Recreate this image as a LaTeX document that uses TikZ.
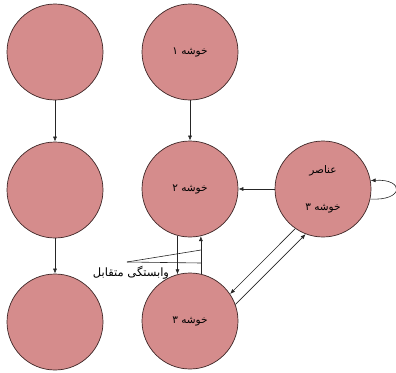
\documentclass[tikz,border=0pt]{standalone}
\usepackage{fontspec}
\usepackage{xcolor}
\usepackage{tikz}
\usetikzlibrary{arrows.meta}
\newfontfamily\farsifont[Script=Arabic]{DejaVu Sans}
\TeXXeTstate=1
\definecolor{clusterpink}{RGB}{213,140,140}
\definecolor{clusteredge}{RGB}{62,38,38}
\newcommand{\fa}[1]{\beginR #1\endR}

\begin{document}
\begin{tikzpicture}[
  x=1pt, y=-1pt,
  cluster/.style={circle, fill=clusterpink, draw=clusteredge, line width=0.7pt, minimum size=96pt, inner sep=0, font=\farsifont\fontsize{10.5}{12}\selectfont},
  link/.style={draw=black!85, line width=0.6pt, -{Latex[length=5pt, width=4pt]}},
  callout/.style={draw=black!85, line width=0.6pt},
  lbl/.style={font=\farsifont\fontsize{11.5}{13}\selectfont},
]
\useasboundingbox (0, 0) rectangle (396, 372);

% ==================== left column ====================
\node[cluster] (l1) at (55, 52) {};
\node[cluster] (l2) at (55, 190) {};
\node[cluster] (l3) at (55, 322) {};
\draw[link] (l1.south) -- (l2.north);
\draw[link] (l2.south) -- (l3.north);

% ==================== middle column ====================
\node[cluster] (m1) at (190, 52) {\fa{خوشه ۱}};
\node[cluster] (m2) at (190, 189) {\fa{خوشه ۲}};
\node[cluster] (m3) at (190, 321) {\fa{خوشه ۳}};
\draw[link] (m1.south) -- (m2.north);
\draw[link] (m2.255) -- (m3.105);
\draw[link] (m3.77) -- (m2.283);

% ==================== elements of cluster 3 ====================
\node[cluster, align=center] (r) at (323, 189) {\fa{عناصر}\\[25pt]\fa{خوشه ۳}};
\draw[link] (r.west) -- (m2.east);
\draw[link] (r.235.8) -- (m3.34.2);
\draw[link] (m3.20.4) -- (r.249.6);
\draw[link] (r.348) .. controls +(34, 2) and +(34, -2) .. (r.10);

% ==================== interdependence label ====================
\node[lbl] (mutual) at (131, 273) {\fa{وابستگی متقابل}};
\coordinate (mutual-tip) at (127, 262);
\coordinate (up-a) at (201, 250);
\coordinate (up-b) at (201, 263);
\draw[callout] (mutual-tip) -- (up-a);
\draw[callout] (mutual-tip) -- (up-b);

\end{tikzpicture}
\end{document}
